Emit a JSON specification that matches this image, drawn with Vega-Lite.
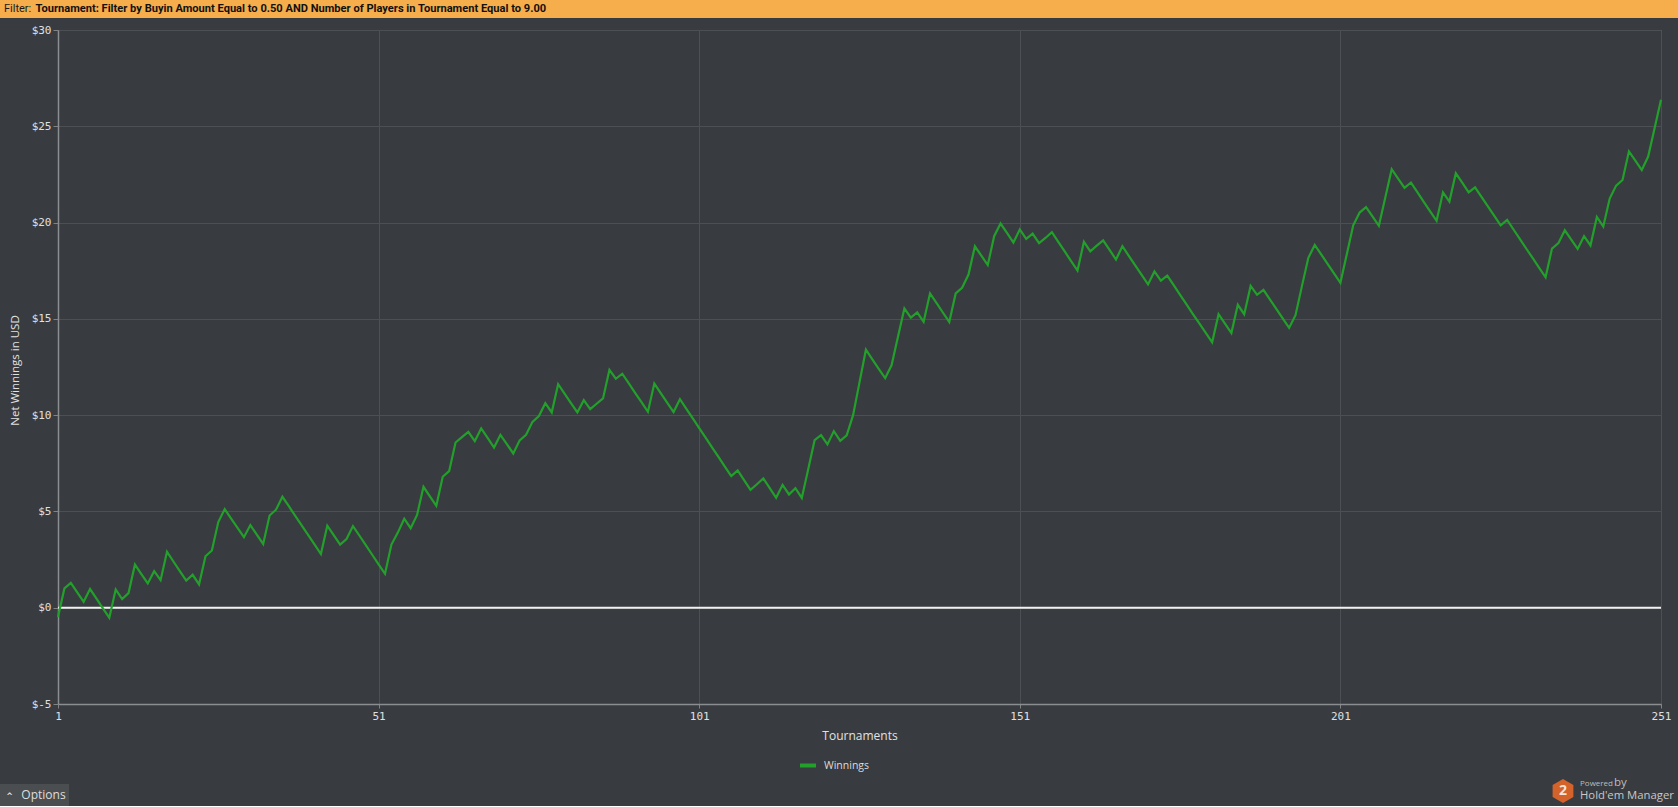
{
  "$schema": "https://vega.github.io/schema/vega-lite/v6.json",
  "background": "#383b3f",
  "padding": 0,
  "config": {"view": {"stroke": null}},
  "datasets": {
    "filter": [{"prefix": "Filter:", "text": "Tournament: Filter by Buyin Amount Equal to 0.50 AND Number of Players in Tournament Equal to 9.00"}],
    "zero": [{"net": 0}],
    "options": [{"label": "Options", "caret": "^"}],
    "logo": [{"badge": "2", "powered": "Powered", "by": "by", "brand": "Hold'em Manager"}],
    "winnings": [
      {"t":1,"net":-0.48},{"t":2,"net":1.0},{"t":3,"net":1.29},{"t":4,"net":0.8},{"t":5,"net":0.31},
      {"t":6,"net":0.97},{"t":7,"net":0.47},{"t":8,"net":-0.03},{"t":9,"net":-0.52},{"t":10,"net":0.95},
      {"t":11,"net":0.45},{"t":12,"net":0.76},{"t":13,"net":2.24},{"t":14,"net":1.75},{"t":15,"net":1.26},
      {"t":16,"net":1.9},{"t":17,"net":1.43},{"t":18,"net":2.9},{"t":19,"net":2.4},{"t":20,"net":1.9},
      {"t":21,"net":1.41},{"t":22,"net":1.71},{"t":23,"net":1.21},{"t":24,"net":2.67},{"t":25,"net":2.97},
      {"t":26,"net":4.45},{"t":27,"net":5.12},{"t":28,"net":4.63},{"t":29,"net":4.15},{"t":30,"net":3.66},
      {"t":31,"net":4.29},{"t":32,"net":3.8},{"t":33,"net":3.31},{"t":34,"net":4.79},{"t":35,"net":5.09},
      {"t":36,"net":5.76},{"t":37,"net":5.27},{"t":38,"net":4.77},{"t":39,"net":4.28},{"t":40,"net":3.78},
      {"t":41,"net":3.29},{"t":42,"net":2.79},{"t":43,"net":4.26},{"t":44,"net":3.77},{"t":45,"net":3.28},
      {"t":46,"net":3.57},{"t":47,"net":4.24},{"t":48,"net":3.75},{"t":49,"net":3.25},{"t":50,"net":2.75},
      {"t":51,"net":2.25},{"t":52,"net":1.76},{"t":53,"net":3.28},{"t":54,"net":3.9},{"t":55,"net":4.62},
      {"t":56,"net":4.13},{"t":57,"net":4.82},{"t":58,"net":6.28},{"t":59,"net":5.78},{"t":60,"net":5.29},
      {"t":61,"net":6.8},{"t":62,"net":7.09},{"t":63,"net":8.58},{"t":64,"net":8.86},{"t":65,"net":9.13},
      {"t":66,"net":8.65},{"t":67,"net":9.31},{"t":68,"net":8.82},{"t":69,"net":8.32},{"t":70,"net":8.98},
      {"t":71,"net":8.5},{"t":72,"net":8.01},{"t":73,"net":8.69},{"t":74,"net":8.98},{"t":75,"net":9.65},
      {"t":76,"net":9.95},{"t":77,"net":10.62},{"t":78,"net":10.14},{"t":79,"net":11.61},{"t":80,"net":11.12},
      {"t":81,"net":10.63},{"t":82,"net":10.14},{"t":83,"net":10.78},{"t":84,"net":10.31},{"t":85,"net":10.59},
      {"t":86,"net":10.87},{"t":87,"net":12.35},{"t":88,"net":11.89},{"t":89,"net":12.15},{"t":90,"net":11.66},
      {"t":91,"net":11.16},{"t":92,"net":10.67},{"t":93,"net":10.17},{"t":94,"net":11.64},{"t":95,"net":11.14},
      {"t":96,"net":10.65},{"t":97,"net":10.16},{"t":98,"net":10.83},{"t":99,"net":10.33},{"t":100,"net":9.83},
      {"t":101,"net":9.33},{"t":102,"net":8.83},{"t":103,"net":8.33},{"t":104,"net":7.83},{"t":105,"net":7.33},
      {"t":106,"net":6.83},{"t":107,"net":7.13},{"t":108,"net":6.63},{"t":109,"net":6.12},{"t":110,"net":6.41},
      {"t":111,"net":6.71},{"t":112,"net":6.21},{"t":113,"net":5.71},{"t":114,"net":6.38},{"t":115,"net":5.88},
      {"t":116,"net":6.21},{"t":117,"net":5.7},{"t":118,"net":7.19},{"t":119,"net":8.7},{"t":120,"net":8.96},
      {"t":121,"net":8.48},{"t":122,"net":9.17},{"t":123,"net":8.67},{"t":124,"net":8.95},{"t":125,"net":10.0},
      {"t":126,"net":11.7},{"t":127,"net":13.4},{"t":128,"net":12.9},{"t":129,"net":12.4},{"t":130,"net":11.92},
      {"t":131,"net":12.59},{"t":132,"net":14.07},{"t":133,"net":15.54},{"t":134,"net":15.06},{"t":135,"net":15.34},
      {"t":136,"net":14.85},{"t":137,"net":16.32},{"t":138,"net":15.83},{"t":139,"net":15.33},{"t":140,"net":14.84},
      {"t":141,"net":16.32},{"t":142,"net":16.61},{"t":143,"net":17.3},{"t":144,"net":18.77},{"t":145,"net":18.28},
      {"t":146,"net":17.79},{"t":147,"net":19.29},{"t":148,"net":19.95},{"t":149,"net":19.46},{"t":150,"net":18.96},
      {"t":151,"net":19.64},{"t":152,"net":19.15},{"t":153,"net":19.43},{"t":154,"net":18.93},{"t":155,"net":19.2},
      {"t":156,"net":19.5},{"t":157,"net":19.0},{"t":158,"net":18.5},{"t":159,"net":18.0},{"t":160,"net":17.51},
      {"t":161,"net":19.0},{"t":162,"net":18.51},{"t":163,"net":18.8},{"t":164,"net":19.08},{"t":165,"net":18.58},
      {"t":166,"net":18.08},{"t":167,"net":18.77},{"t":168,"net":18.27},{"t":169,"net":17.78},{"t":170,"net":17.28},
      {"t":171,"net":16.79},{"t":172,"net":17.46},{"t":173,"net":16.98},{"t":174,"net":17.25},{"t":175,"net":16.75},
      {"t":176,"net":16.25},{"t":177,"net":15.75},{"t":178,"net":15.25},{"t":179,"net":14.76},{"t":180,"net":14.27},
      {"t":181,"net":13.78},{"t":182,"net":15.24},{"t":183,"net":14.75},{"t":184,"net":14.26},{"t":185,"net":15.73},
      {"t":186,"net":15.24},{"t":187,"net":16.71},{"t":188,"net":16.25},{"t":189,"net":16.51},{"t":190,"net":16.01},
      {"t":191,"net":15.52},{"t":192,"net":15.02},{"t":193,"net":14.53},{"t":194,"net":15.19},{"t":195,"net":16.7},
      {"t":196,"net":18.17},{"t":197,"net":18.84},{"t":198,"net":18.35},{"t":199,"net":17.85},{"t":200,"net":17.36},
      {"t":201,"net":16.87},{"t":202,"net":18.36},{"t":203,"net":19.86},{"t":204,"net":20.52},{"t":205,"net":20.8},
      {"t":206,"net":20.32},{"t":207,"net":19.83},{"t":208,"net":21.3},{"t":209,"net":22.77},{"t":210,"net":22.28},
      {"t":211,"net":21.8},{"t":212,"net":22.08},{"t":213,"net":21.58},{"t":214,"net":21.08},{"t":215,"net":20.58},
      {"t":216,"net":20.09},{"t":217,"net":21.57},{"t":218,"net":21.09},{"t":219,"net":22.56},{"t":220,"net":22.07},
      {"t":221,"net":21.57},{"t":222,"net":21.83},{"t":223,"net":21.33},{"t":224,"net":20.84},{"t":225,"net":20.35},
      {"t":226,"net":19.86},{"t":227,"net":20.14},{"t":228,"net":19.64},{"t":229,"net":19.14},{"t":230,"net":18.64},
      {"t":231,"net":18.15},{"t":232,"net":17.65},{"t":233,"net":17.16},{"t":234,"net":18.65},{"t":235,"net":18.93},
      {"t":236,"net":19.6},{"t":237,"net":19.12},{"t":238,"net":18.63},{"t":239,"net":19.29},{"t":240,"net":18.81},
      {"t":241,"net":20.29},{"t":242,"net":19.79},{"t":243,"net":21.25},{"t":244,"net":21.92},{"t":245,"net":22.21},
      {"t":246,"net":23.7},{"t":247,"net":23.22},{"t":248,"net":22.73},{"t":249,"net":23.43},{"t":250,"net":24.9},
      {"t":251,"net":26.38}
    ]
  },
  "spacing": 5,
  "vconcat": [
    {
      "width": 1678,
      "height": 18,
      "view": {"fill": "#f6ad4b", "stroke": null},
      "data": {"name": "filter"},
      "layer": [
        {
          "mark": {"type": "text", "align": "left", "baseline": "middle", "dx": -835, "font": "Liberation Sans Narrow, Roboto, sans-serif", "fontSize": 11, "color": "#1a1a1a"},
          "encoding": {"text": {"field": "prefix", "type": "nominal"}}
        },
        {
          "mark": {"type": "text", "align": "left", "baseline": "middle", "dx": -803.5, "font": "Liberation Sans Narrow, Roboto, sans-serif", "fontSize": 11.1, "fontWeight": "bold", "color": "#111111"},
          "encoding": {"text": {"field": "text", "type": "nominal"}}
        }
      ]
    },
    {
      "spacing": 0,
      "hconcat": [
        {
          "width": 1,
          "height": 741,
          "data": {"values": []},
          "mark": {"type": "point", "opacity": 0}
        },
        {
          "width": 1603,
          "height": 674,
          "view": {"fill": "#383b3f", "stroke": "#7e8185", "strokeWidth": 1},
          "encoding": {
            "y": {
              "field": "net",
              "type": "quantitative",
              "scale": {"domain": [-5, 30], "nice": false, "zero": false},
              "axis": {
                "values": [-5, 0, 5, 10, 15, 20, 25, 30],
                "labelExpr": "'$' + datum.value",
                "title": "Net Winnings in USD",
                "titleX": -38,
                "titleY": 340,
                "titleAngle": -90,
                "titleAlign": "center",
                "titleBaseline": "bottom",
                "titleFont": "Open Sans",
                "titleFontSize": 11.5,
                "titleFontWeight": "normal",
                "titleColor": "#e2e2e2",
                "minExtent": 56,
                "labelFont": "DejaVu Sans Mono",
                "labelFontSize": 11,
                "labelColor": "#e0e0e0",
                "labelPadding": 2,
                "tickSize": 5,
                "tickColor": "#808386",
                "domainColor": "#8b8e91",
                "domainWidth": 1.5,
                "grid": true,
                "gridColor": "#4c4f53",
                "gridWidth": 1
              }
            }
          },
          "layer": [
            {
              "data": {"name": "zero"},
              "mark": {"type": "rule", "color": "#f0f0f0", "strokeWidth": 2}
            },
            {
              "data": {"name": "winnings"},
              "mark": {"type": "line", "strokeWidth": 2.2, "interpolate": "linear"},
              "encoding": {
                "x": {
                  "field": "t",
                  "type": "quantitative",
                  "scale": {"domain": [1, 251], "nice": false, "zero": false},
                  "axis": {
                    "values": [1, 51, 101, 151, 201, 251],
                    "title": "Tournaments",
                    "titleFont": "Open Sans",
                    "titleFontSize": 12,
                    "titleFontWeight": "normal",
                    "titleColor": "#e2e2e2",
                    "titlePadding": 9,
                    "labelFont": "DejaVu Sans Mono",
                    "labelFontSize": 11,
                    "labelColor": "#e0e0e0",
                    "labelPadding": 2,
                    "labelFlush": false,
                    "tickSize": 4,
                    "tickColor": "#808386",
                    "domainColor": "#8b8e91",
                    "domainWidth": 1.5,
                    "grid": true,
                    "gridColor": "#4c4f53",
                    "gridWidth": 1
                  }
                },
                "color": {
                  "datum": "Winnings",
                  "type": "nominal",
                  "scale": {"range": ["#22a02b"]},
                  "legend": {
                    "orient": "none",
                    "legendX": 798,
                    "legendY": 755.5,
                    "title": null,
                    "padding": 0,
                    "symbolType": "stroke",
                    "symbolSize": 256,
                    "symbolStrokeWidth": 4,
                    "labelOffset": 6,
                    "labelFont": "Open Sans",
                    "labelFontSize": 10.5,
                    "labelColor": "#dcdcdc"
                  }
                }
              }
            }
          ]
        }
      ]
    },
    {
      "spacing": 1481,
      "hconcat": [
        {
          "width": 69,
          "height": 22,
          "view": {"fill": "#4b4e51", "stroke": null},
          "data": {"name": "options"},
          "layer": [
            {
              "mark": {"type": "text", "dx": 9, "baseline": "middle", "font": "Open Sans", "fontSize": 12, "color": "#dedede"},
              "encoding": {"text": {"field": "label", "type": "nominal"}}
            },
            {
              "mark": {"type": "text", "dx": -25, "dy": 2, "baseline": "middle", "font": "DejaVu Sans", "fontSize": 8, "fontWeight": "bold", "color": "#dedede"},
              "encoding": {"text": {"field": "caret", "type": "nominal"}}
            }
          ]
        },
        {
          "width": 128,
          "height": 22,
          "view": {"fill": "#383b3f", "stroke": null},
          "data": {"name": "logo"},
          "layer": [
            {
              "mark": {"type": "point", "filled": true, "opacity": 1, "color": "#d4622b", "size": 576, "strokeWidth": 0, "shape": "M-4.25,-1.33L-3.384,-0.83L-3.384,0.17L-4.25,0.67L-5.116,0.17L-5.116,-0.83Z"}
            },
            {
              "mark": {"type": "text", "dx": -51, "dy": -4, "align": "center", "baseline": "middle", "font": "Open Sans", "fontSize": 14, "fontWeight": "bold", "color": "#f3e3da"},
              "encoding": {"text": {"field": "badge", "type": "nominal"}}
            },
            {
              "mark": {"type": "text", "dx": -34, "dy": -9.5, "align": "left", "baseline": "alphabetic", "font": "Open Sans", "fontSize": 8, "color": "#bdbdbd"},
              "encoding": {"text": {"field": "powered", "type": "nominal"}}
            },
            {
              "mark": {"type": "text", "dx": 0, "dy": -9.5, "align": "left", "baseline": "alphabetic", "font": "Open Sans", "fontSize": 11.5, "color": "#bdbdbd"},
              "encoding": {"text": {"field": "by", "type": "nominal"}}
            },
            {
              "mark": {"type": "text", "dx": -34, "dy": 3.5, "align": "left", "baseline": "alphabetic", "font": "Open Sans", "fontSize": 11.3, "color": "#c8c8c8"},
              "encoding": {"text": {"field": "brand", "type": "nominal"}}
            }
          ]
        }
      ]
    }
  ]
}
